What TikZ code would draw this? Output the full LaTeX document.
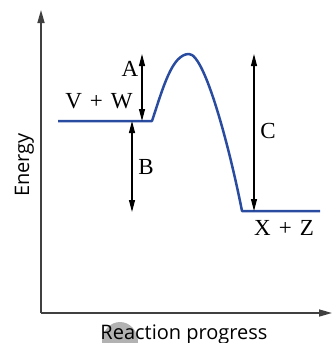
\documentclass[tikz,border=0pt]{standalone}
\usepackage{fontspec}
\setmainfont{Liberation Serif}
\setsansfont{Open Sans}
\usetikzlibrary{arrows.meta}
\definecolor{pathblue}{RGB}{42,76,160}
\definecolor{axisgray}{RGB}{64,64,64}
\newcommand{\plus}[2]{#1\hspace{0.35em}+\hspace{0.35em}#2}

\begin{document}
\begin{tikzpicture}[x=1pt, y=-1pt,
    axis/.style={axisgray, line width=1.5pt, -{Triangle[length=13pt, width=7pt]}},
    gap/.style={line width=1.1pt, {Triangle[length=12pt, width=6pt]}-{Triangle[length=12pt, width=6pt]}},
    lbl/.style={font=\fontsize{23}{23}\selectfont, inner sep=0pt, anchor=base},
    title/.style={font=\sffamily\fontsize{20}{20}\selectfont, inner sep=0pt, anchor=base}]
    \useasboundingbox (0,0) rectangle (332,343);
    %smudge under the axis title
    \fill[gray!60] (120,342) ellipse (18 and 20);

    %axes
    \coordinate (origin) at (41,313);
    \coordinate (ytip) at (41,10);
    \coordinate (xtip) at (332,313);
    \draw[axis] (origin) -- (ytip);
    \draw[axis] (origin) -- (xtip);
    \node[title, rotate=90] (energy) at (29,165) {Energy};
    \node[title] (progress) at (184,339) {Reaction progress};

    %energy profile
    \coordinate (start) at (58,121);
    \coordinate (react) at (152,121);
    \coordinate (peak) at (189,54);
    \coordinate (prod) at (242,211);
    \coordinate (stop) at (320,211);
    \draw[pathblue, line width=2.5pt, line join=round]
        (start) -- (react) .. controls (163,88) and (172,54) .. (peak)
        .. controls (205,54) and (230,150) .. (prod) -- (stop);

    %gaps
    \coordinate (atop) at (142,54);
    \coordinate (abot) at (142,121);
    \coordinate (btop) at (132,121);
    \coordinate (bbot) at (132,212);
    \coordinate (ctop) at (254,54);
    \coordinate (cbot) at (254,211);
    \draw[gap] (abot) -- (atop);
    \draw[gap] (btop) -- (bbot);
    \draw[gap] (cbot) -- (ctop);

    \node[lbl] (alab) at (130,76) {A};
    \node[lbl] (blab) at (146,174) {B};
    \node[lbl] (clab) at (268,138) {C};
    \node[lbl] (vw) at (99,108) {\plus{V}{W}};
    \node[lbl] (xz) at (284,235) {\plus{X}{Z}};
\end{tikzpicture}
\end{document}
